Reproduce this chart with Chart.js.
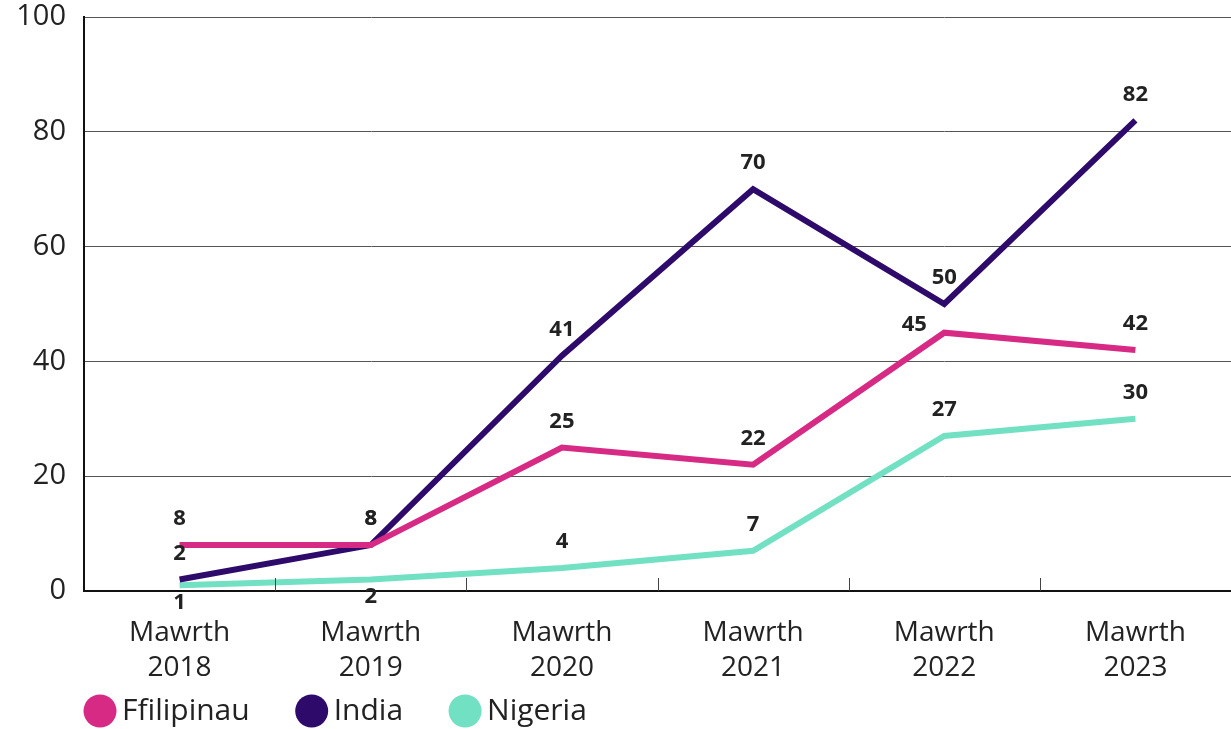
<!DOCTYPE html>
<html>
<head>
<meta charset="utf-8">
<script src="https://cdn.jsdelivr.net/npm/chart.js@4"></script>
<style>
  body { margin: 0; background: #fff; }
  #wrap { width: 1231px; height: 729px; position: relative; }
</style>
</head>
<body>
<div id="wrap"><canvas id="siart"></canvas></div>
<script>
const blynyddoedd = [['Mawrth', '2018'], ['Mawrth', '2019'], ['Mawrth', '2020'], ['Mawrth', '2021'], ['Mawrth', '2022'], ['Mawrth', '2023']];
const ffilipinau = [8, 8, 25, 22, 45, 42];
const india = [2, 8, 41, 70, 50, 82];
const nigeria = [1, 2, 4, 7, 27, 30];
const ticiauY = [0, 20, 40, 60, 80, 100];

const ffont = "'Open Sans', 'Noto Sans', sans-serif";

// labeli data uwchben (neu o dan) pob pwynt
const labeliData = {
    id: 'labeliData',
    afterDatasetsDraw(chart) {
        const ctx = chart.ctx;
        ctx.save();
        ctx.font = "bold 22px " + ffont;
        ctx.fillStyle = '#222';
        ctx.textAlign = 'center';
        ctx.textBaseline = 'middle';
        chart.data.datasets.forEach((ds, i) => {
            const meta = chart.getDatasetMeta(i);
            meta.data.forEach((pt, j) => {
                const below = (ds.labelBelow || []).includes(j);
                const left = (ds.labelLeft || []).includes(j);
                let x = pt.x, y = below ? pt.y + 17 : pt.y - 26;
                if (left) { x -= 30; y = pt.y - 8; }
                ctx.fillText(ds.data[j], x, y);
            });
        });
        ctx.restore();
    }
};

// ticiau bach i mewn rhwng y categoriau
const ticiauX = {
    id: 'ticiauX',
    afterDraw(chart) {
        const x = chart.scales.x;
        const ctx = chart.ctx;
        ctx.save();
        ctx.strokeStyle = '#444';
        ctx.lineWidth = 1;
        for (let i = 1; i < blynyddoedd.length; i++) {
            const px = Math.round((x.getPixelForValue(i - 1) + x.getPixelForValue(i)) / 2) + 0.5;
            ctx.beginPath();
            ctx.moveTo(px, x.top);
            ctx.lineTo(px, x.top - 13);
            ctx.stroke();
        }
        ctx.restore();
    }
};

// allwedd ar y gwaelod
const allwedd = {
    id: 'allwedd',
    afterDraw(chart) {
        const ctx = chart.ctx;
        ctx.save();
        ctx.font = "30px " + ffont;
        ctx.textBaseline = 'middle';
        let x = 84;
        const y = 711;
        chart.data.datasets.forEach(ds => {
            ctx.fillStyle = ds.borderColor;
            ctx.beginPath();
            ctx.arc(x + 16, y, 16.5, 0, Math.PI * 2);
            ctx.fill();
            ctx.fillStyle = '#222';
            ctx.fillText(ds.label, x + 38, y);
            x += 38 + ctx.measureText(ds.label).width + 46;
        });
        ctx.restore();
    }
};

new Chart(document.getElementById('siart').getContext('2d'), {
    type: 'line',
    data: {
        labels: blynyddoedd,
        datasets: [{
                label: 'Ffilipinau',
                data: ffilipinau,
                borderColor: '#D62A84',
                backgroundColor: '#D62A84',
                borderWidth: 6,
                pointRadius: 0,
                tension: 0,
                labelLeft: [4]
            }, {
                label: 'India',
                data: india,
                borderColor: '#2E0A6B',
                backgroundColor: '#2E0A6B',
                borderWidth: 6,
                pointRadius: 0,
                tension: 0
            }, {
                label: 'Nigeria',
                data: nigeria,
                borderColor: '#72E0C2',
                backgroundColor: '#72E0C2',
                borderWidth: 6,
                pointRadius: 0,
                tension: 0,
                labelBelow: [0, 1]
            }]
    },
    options: {
        responsive: true,
        maintainAspectRatio: false,
        animation: false,
        layout: {padding: {top: 0, left: 0, right: 0, bottom: 46}},
        plugins: {
            tooltip: {enabled: false},
            legend: {display: false}
        },
        scales: {
            x: {
                offset: true,
                afterFit: (axis) => { axis.height = 92; axis.paddingTop = 0; },
                grid: {offset: true, drawOnChartArea: false, drawTicks: false},
                border: {color: '#111', width: 2},
                ticks: {
                    color: '#222',
                    padding: 25,
                    maxRotation: 0,
                    font: {family: ffont, size: 28, lineHeight: 1.25}
                }
            },
            y: {
                min: 0,
                max: 100,
                afterBuildTicks: (axis) => { axis.ticks = ticiauY.map(v => ({value: v})); },
                afterFit: (axis) => { axis.width = 84; axis.paddingTop = 17; axis.paddingBottom = 0; },
                grid: {color: '#555', lineWidth: 1, drawTicks: false},
                border: {color: '#111', width: 2},
                ticks: {
                    color: '#222',
                    padding: 18,
                    font: {family: ffont, size: 29}
                }
            }
        }
    },
    plugins: [labeliData, ticiauX, allwedd]
});
</script>
</body>
</html>
